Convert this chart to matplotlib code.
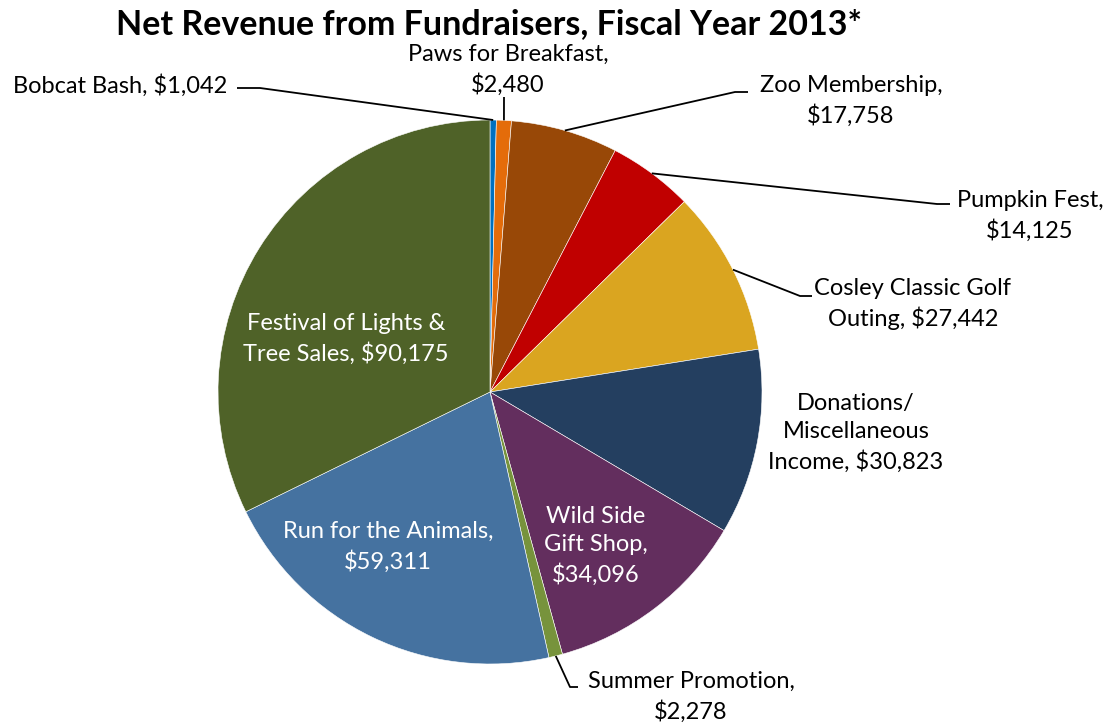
import numpy as np
import matplotlib
matplotlib.use("Agg")
import matplotlib.pyplot as plt

# ---- data ----
categories = ["Bobcat Bash", "Paws for Breakfast", "Zoo Membership", "Pumpkin Fest",
              "Cosley Classic Golf Outing", "Donations/Miscellaneous Income",
              "Wild Side Gift Shop", "Summer Promotion", "Run for the Animals",
              "Festival of Lights & Tree Sales"]
values = [1042, 2480, 17758, 14125, 27442, 30823, 34096, 2278, 59311, 90175]
label_texts = ["Bobcat Bash, $1,042", "Paws for Breakfast,\n$2,480", "Zoo Membership,\n$17,758",
               "Pumpkin Fest,\n$14,125", "Cosley Classic Golf\nOuting, $27,442",
               "Donations/\nMiscellaneous\nIncome, $30,823", "Wild Side\nGift Shop,\n$34,096",
               "Summer Promotion,\n$2,278", "Run for the Animals,\n$59,311",
               "Festival of Lights &\nTree Sales, $90,175"]
title = "Net Revenue from Fundraisers, Fiscal Year 2013*"

# ---- style / layout ----
colors = ["#0070C0", "#E46C0A", "#984807", "#C00000", "#DAA520", "#243F60",
          "#632E5E", "#77933C", "#4572A0", "#4F6228"]
W, H = 1116, 727
FONT = ["Lato", "DejaVu Sans"]
# label positions in pixel coords (x center, y center), color
label_pos = [(120, 86, "black"), (508, 70, "black"),
             (851, 101, "black"), (1030, 216, "black"),
             (913, 304, "black"), (856, 433, "black"),
             (596, 546, "white"), (691, 697, "black"),
             (388, 547, "white"), (346, 339, "white")]
# leader line waypoints (pixel coords) after the wedge anchor; None = no leader
leaders = [[(260, 88), (237, 88)], [(504, 97)], [(735, 92), (748, 92)],
           [(937, 204), (950, 204)], [(800, 296), (812, 296)], None, None,
           [(570, 687), (578, 687)], None, None]

cx, cy, R = 490, 392, 272

fig = plt.figure(figsize=(W / 100, H / 100), dpi=100)
ax = fig.add_axes([0, 0, 1, 1])

wedges, _ = ax.pie(values, colors=colors, startangle=90, counterclock=False,
                   center=(cx, H - cy), radius=R,
                   wedgeprops=dict(edgecolor="white", linewidth=0.4))
ax.set_xlim(0, W)
ax.set_ylim(0, H)
ax.set_aspect("equal")
ax.axis("off")

for w, txt, (lx, ly, col), ld in zip(wedges, label_texts, label_pos, leaders):
    ax.text(lx, H - ly, txt, ha="center", va="center", color=col, fontsize=17,
            family=FONT, linespacing=1.43)
    if ld is not None:
        ang = np.deg2rad((w.theta1 + w.theta2) / 2)
        px = cx + R * np.cos(ang)
        py = (H - cy) + R * np.sin(ang)
        xs = [px] + [p[0] for p in ld]
        ys = [py] + [H - p[1] for p in ld]
        ax.plot(xs, ys, color="black", lw=1.3, solid_capstyle="butt")

fig.text(489 / W, 1 - 24 / H, title, ha="center", va="center", fontsize=24.5,
         fontweight="bold", family=FONT)

fig.savefig("out.png", dpi=100)
